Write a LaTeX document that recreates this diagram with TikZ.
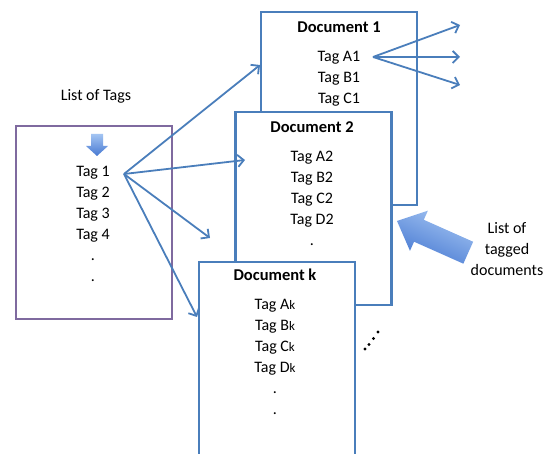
\documentclass[tikz,border=0pt]{standalone}
\usepackage{fontspec}
\setmainfont{Carlito}
\usepackage{xcolor}
\usetikzlibrary{arrows.meta, positioning, calc, shadows}

\definecolor{docblue}{HTML}{4A7EBB}
\definecolor{listpurple}{HTML}{7F6A9F}
\definecolor{arrowlight}{HTML}{A3C4F2}
\definecolor{arrowdark}{HTML}{4779D2}

\newcommand{\ksub}{{\fontsize{13}{13}\selectfont k}}

\tikzstyle{listbox} = [rectangle, draw=listpurple, line width=2pt, fill=white, minimum width=156pt, minimum height=193pt, drop shadow={opacity=0.25, shadow xshift=1pt, shadow yshift=-1pt}]
\tikzstyle{docbox} = [rectangle, draw=docblue, line width=2.4pt, fill=white, minimum width=156pt, minimum height=193pt, drop shadow={opacity=0.25, shadow xshift=1pt, shadow yshift=-1pt}]
\tikzstyle{doctitle} = [font=\fontsize{16.5}{19}\selectfont\bfseries, inner sep=0pt]
\tikzstyle{taglist} = [align=center, inner sep=0pt, font=\fontsize{16}{21}\selectfont]
\tikzstyle{link} = [line width=1.8pt, draw=docblue, -{Straight Barb[length=6pt, width=12pt]}]
\tikzstyle{blockarrow} = [draw=none, top color=arrowlight, bottom color=arrowdark]

\begin{document}
\begin{tikzpicture}[x=1pt, y=1pt]
\useasboundingbox (0,0) rectangle (549,454);

% the list of tags
\node[taglist] (listlabel) at (96,358) {List of Tags};
\node[listbox] (tags) at (94,231.5) {};
\path[blockarrow] (91,320) -- (103,320) -- (103,308) -- (108,308) -- (97,298)
    -- (86,308) -- (91,308) -- cycle;
\node[taglist, anchor=north] (taglines) at (93,288) {Tag 1\\Tag 2\\Tag 3\\Tag 4\\.\\.};
\coordinate (hub) at (124,280);

% documents, back to front
\node[docbox] (doc1) at (339,345.5) {};
\node[doctitle] (title1) at (339,427) {Document 1};
\node[taglist, anchor=north] (lines1) at (339,403) {Tag A1\\Tag B1\\Tag C1};
\coordinate (a1) at (373,397);

\node[docbox] (doc2) at (313.5,245.5) {};
\node[doctitle] (title2) at (312,327) {Document 2};
\node[taglist, anchor=north] (lines2) at (312,303) {Tag A2\\Tag B2\\Tag C2\\Tag D2\\.};

\node[docbox, minimum height=196pt] (dock) at (277,94) {};
\node[doctitle] (titlek) at (275,179) {Document k};
\node[taglist, anchor=north] (linesk) at (275,155) {Tag A\ksub\\Tag B\ksub\\Tag C\ksub\\Tag D\ksub\\.\\.};

% tag 1 points into the documents
\coordinate (in1) at (260,389);
\coordinate (in2) at (245,294);
\coordinate (in3) at (210,216);
\coordinate (ink) at (197,137);
\draw[link] (hub) -- (in1);
\draw[link] (hub) -- (in2);
\draw[link] (hub) -- (in3);
\draw[link] (hub) -- (ink);

% tag A1 points on
\coordinate (out1) at (460,429);
\coordinate (out2) at (460,397);
\coordinate (out3) at (460,369);
\draw[link] (a1) -- (out1);
\draw[link] (a1) -- (out2);
\draw[link] (a1) -- (out3);

% more documents
\foreach \p in {(365,105),(369,109.5),(373.5,115.5),(378,122)}
    \fill \p circle (1.7pt);

% list of tagged documents
\path[blockarrow, shift={(397,233)}, rotate=156, shading angle=-24]
    (0,0) -- (-24,22) -- (-24,12) -- (-78,12) -- (-78,-12) -- (-24,-12) -- (-24,-22) -- cycle;
\node[taglist] (doclabel) at (507,205) {List of\\tagged\\documents};
\end{tikzpicture}
\end{document}
